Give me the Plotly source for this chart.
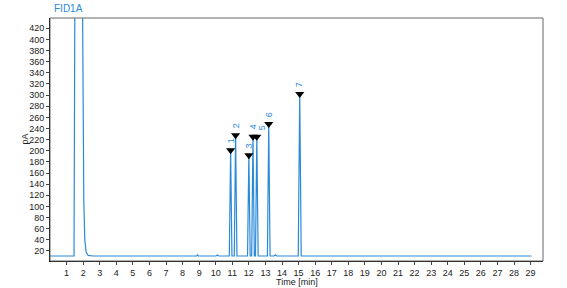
import plotly.graph_objects as go

# Chromatogram trace (time in min, signal in pA)
time = [0.0, 1.45, 1.5, 1.96, 2.04, 2.1, 2.18, 2.3, 2.6,
        8.85, 8.9, 8.95, 10.02, 10.1, 10.2,
        10.82, 10.9, 10.98, 11.12, 11.2, 11.28,
        11.92, 12.0, 12.08, 12.17, 12.25, 12.33, 12.4, 12.48, 12.56,
        13.12, 13.2, 13.28, 13.52, 13.6, 13.68,
        14.98, 15.07, 15.16, 18.7, 18.8, 18.9, 24.35, 24.5, 24.65, 29.05]
signal = [11, 11, 480, 480, 110, 40, 18, 12, 11,
          11, 13, 11, 11, 13, 11,
          11, 201, 11, 11, 228, 11,
          11, 192, 11, 11, 225, 11, 11, 225, 11,
          11, 248, 11, 11, 13, 11,
          11, 302, 11, 11, 11.8, 11, 11, 12, 11, 11]

# Integrated peaks
peak_labels = ["1", "2", "3", "4", "5", "6", "7"]
peak_time = [10.9, 11.2, 12.0, 12.25, 12.48, 13.2, 15.07]
peak_height = [201, 228, 192, 225, 225, 248, 302]
label_dx = [0, 0, 0, 0, 6, 0, 0]  # pixel nudge to avoid overlapping labels

x_ticks = list(range(1, 30))
y_ticks = list(range(20, 421, 20))

blue = "#2a8ad8"
fam = "Liberation Sans, Arial"

fig = go.Figure()
fig.add_trace(go.Scatter(x=time, y=signal, mode="lines",
                         line=dict(color=blue, width=1.2),
                         hoverinfo="skip", showlegend=False))
fig.add_trace(go.Scatter(x=peak_time, y=peak_height,
                         mode="markers",
                         marker=dict(symbol="triangle-down", size=8, color="black"),
                         showlegend=False))
for lab, t, h, dx in zip(peak_labels, peak_time, peak_height, label_dx):
    fig.add_annotation(x=t, y=h, text=lab, textangle=-90, showarrow=False,
                       yanchor="bottom", xanchor="center", yshift=5, xshift=dx,
                       font=dict(size=9, color=blue, family=fam))

fig.add_annotation(x=0, y=1, xref="paper", yref="paper", text="FID1A",
                   showarrow=False, xanchor="left", yanchor="bottom", xshift=2, yshift=2,
                   font=dict(size=10, color=blue, family=fam))
fig.add_annotation(x=0.5, y=0, xref="paper", yref="paper", text="Time [min]",
                   showarrow=False, xanchor="center", yanchor="top", yshift=-14,
                   font=dict(size=9, color="#222222", family=fam))
fig.add_annotation(x=0, y=0.5, xref="paper", yref="paper", text="pA", textangle=-90,
                   showarrow=False, xanchor="center", yanchor="middle", xshift=-26,
                   font=dict(size=9, color="#222222", family=fam))

fig.add_shape(type="rect", xref="paper", yref="paper", x0=0, y0=0, x1=1, y1=1,
              line=dict(color="#666666", width=1))

fig.update_layout(
    width=567, height=288,
    margin=dict(l=50, r=24, t=18, b=27),
    paper_bgcolor="white", plot_bgcolor="white",
    font=dict(family=fam, size=9, color="#222222"),
    xaxis=dict(range=[0, 29.75], tickvals=x_ticks, ticks="outside", ticklen=3,
               showline=True, linecolor="black", linewidth=1, showgrid=False,
               zeroline=False, automargin=False, tickfont=dict(size=9)),
    yaxis=dict(range=[2, 438.5], tickvals=y_ticks, ticks="outside", ticklen=3,
               showline=True, linecolor="black", linewidth=1, showgrid=False,
               zeroline=False, automargin=False, tickfont=dict(size=9)),
)

fig.write_html("out.html")
